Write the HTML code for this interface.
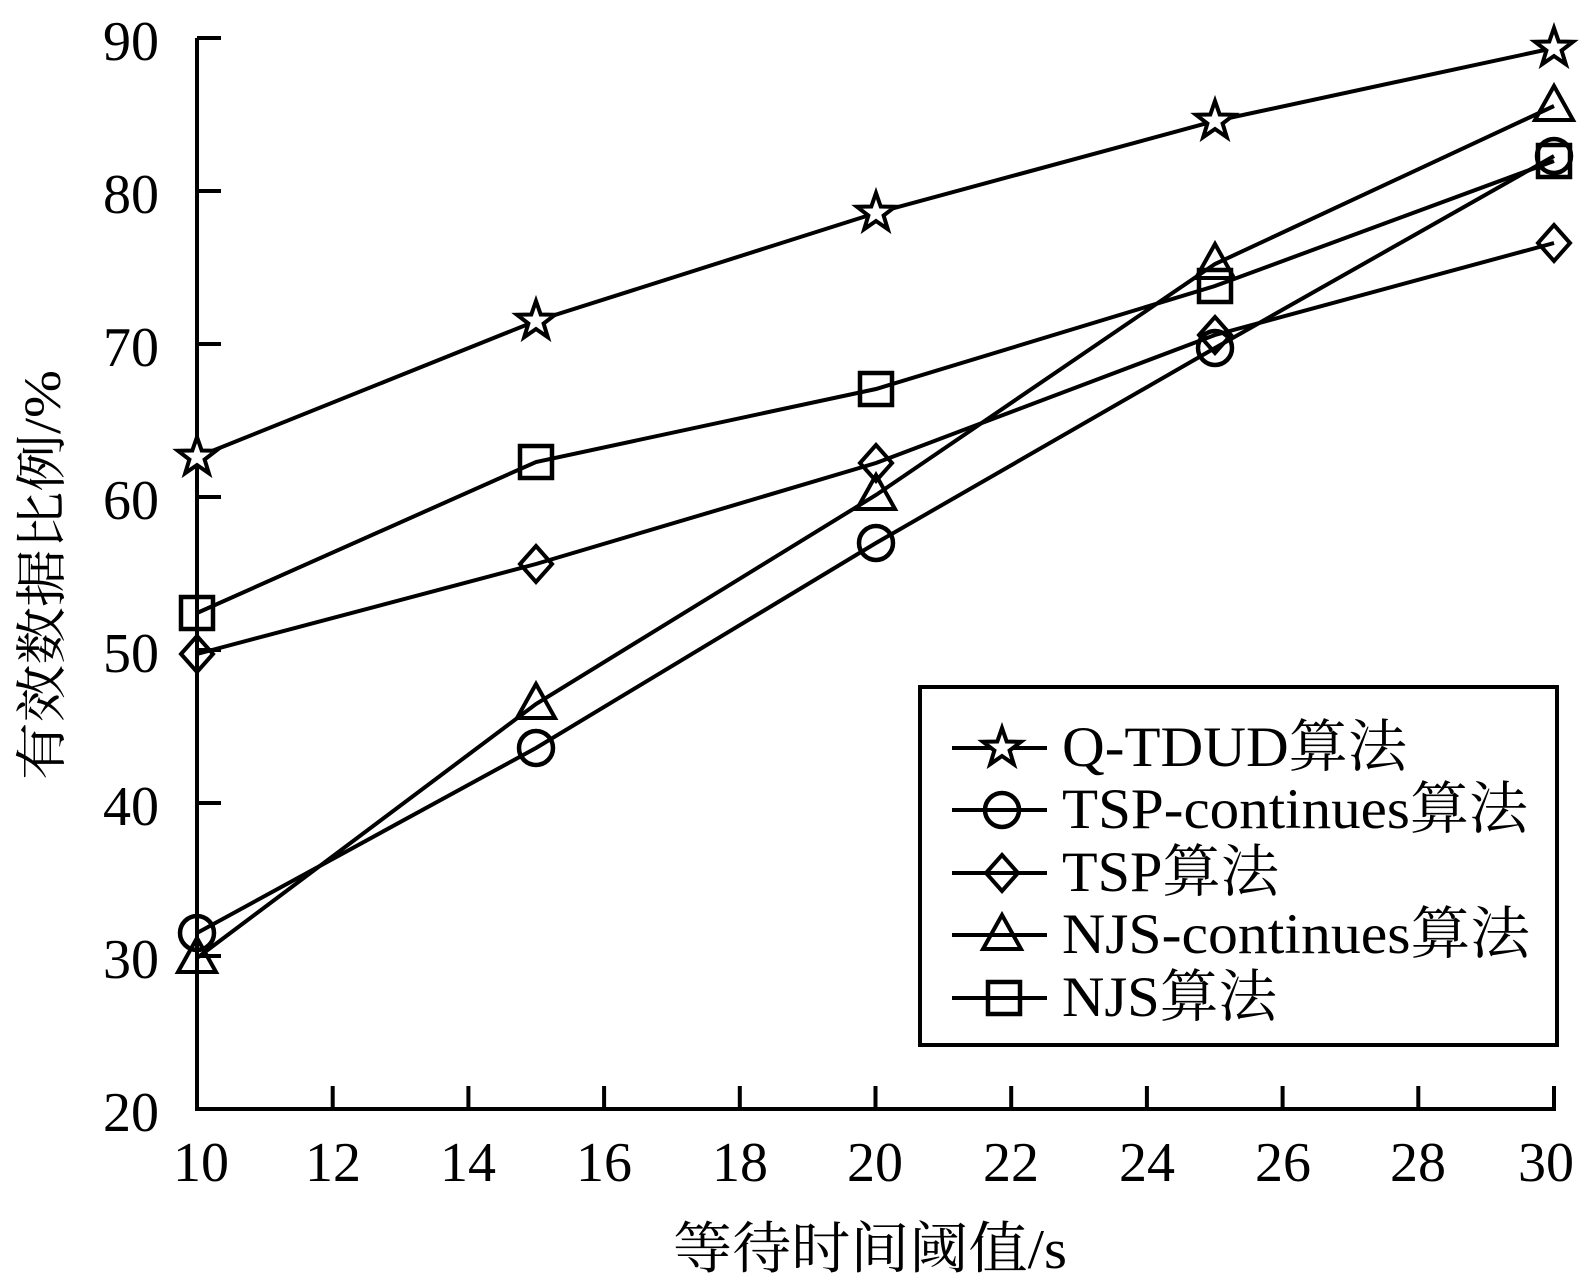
<!DOCTYPE html>
<html><head><meta charset="utf-8"><style>html,body{margin:0;padding:0;background:#fff}svg{display:block}</style></head>
<body>
<svg width="1587" height="1285" viewBox="0 0 1587 1285" xmlns="http://www.w3.org/2000/svg" font-family="'Liberation Serif','Noto Serif CJK SC',serif">
<rect width="1587" height="1285" fill="#fff"/>
<g stroke="#000" stroke-width="4" fill="none">
<path d="M197,38 V1109 H1554 V1090"/>
<path d="M197,38 H221 M197,191 H221 M197,344 H221 M197,497 H221 M197,650 H221 M197,803 H221 M197,956 H221"/>
<path d="M332.7,1109 V1086 M468.4,1109 V1086 M604.1,1109 V1086 M739.8,1109 V1086 M875.5,1109 V1086 M1011.2,1109 V1086 M1146.9,1109 V1086 M1282.6,1109 V1086 M1418.3,1109 V1086 M1554,1109 V1086"/>
</g>
<g font-size="56" text-anchor="end" fill="#000">
<text x="159" y="60">90</text><text x="159" y="213">80</text><text x="159" y="366">70</text><text x="159" y="519">60</text><text x="159" y="672">50</text><text x="159" y="825">40</text><text x="159" y="978">30</text><text x="159" y="1131">20</text>
</g>
<g font-size="56" text-anchor="middle" fill="#000">
<text x="201" y="1181">10</text><text x="333" y="1181">12</text><text x="468" y="1181">14</text><text x="604" y="1181">16</text><text x="740" y="1181">18</text><text x="875" y="1181">20</text><text x="1011" y="1181">22</text><text x="1147" y="1181">24</text><text x="1283" y="1181">26</text><text x="1418" y="1181">28</text><text x="1546" y="1181">30</text>
</g>
<text x="870" y="1268" font-size="56" text-anchor="middle" textLength="394" lengthAdjust="spacingAndGlyphs">等待时间阈值/s</text>
<text transform="translate(60,575) rotate(-90)" font-size="52" text-anchor="middle" textLength="410" lengthAdjust="spacingAndGlyphs">有效数据比例/%</text>

<defs>
<path id="star" d="M0,-20 L4.7,-6.5 L19,-6.2 L7.6,2.5 L11.8,16.2 L0,8 L-11.8,16.2 L-7.6,2.5 L-19,-6.2 L-4.7,-6.5 Z" fill="#fff" stroke="#000" stroke-width="4"/>
<circle id="circ" r="17" fill="none" stroke="#000" stroke-width="4.5"/>
<path id="diam" d="M0,-18 L16,0 L0,18 L-16,0 Z" fill="none" stroke="#000" stroke-width="4"/>
<path id="tri" d="M0,-20 L19,14 L-19,14 Z" fill="none" stroke="#000" stroke-width="4"/>
<rect id="sq" x="-16" y="-16" width="32" height="32" fill="none" stroke="#000" stroke-width="4.5"/>
</defs>

<g stroke="#000" stroke-width="4" fill="none">
<polyline points="197,457 536,321 876,213 1215,121 1554,48"/>
<polyline points="197,933 536,748 876,543 1215,348 1554,156"/>
<polyline points="197,654 536,564 876,463 1215,335 1554,243"/>
<polyline points="197,958 536,704 876,495 1215,264 1554,106"/>
<polyline points="197,613 536,462 876,389 1215,286 1554,161"/>
</g>
<g>
<use href="#star" x="197" y="457"/><use href="#star" x="536" y="321"/><use href="#star" x="876" y="213"/><use href="#star" x="1215" y="121"/><use href="#star" x="1554" y="48"/>
<use href="#circ" x="197" y="933"/><use href="#circ" x="536" y="748"/><use href="#circ" x="876" y="543"/><use href="#circ" x="1215" y="348"/><use href="#circ" x="1554" y="156"/>
<use href="#diam" x="197" y="654"/><use href="#diam" x="536" y="564"/><use href="#diam" x="876" y="463"/><use href="#diam" x="1215" y="335"/><use href="#diam" x="1554" y="243"/>
<use href="#tri" x="197" y="958"/><use href="#tri" x="536" y="704"/><use href="#tri" x="876" y="495"/><use href="#tri" x="1215" y="264"/><use href="#tri" x="1554" y="106"/>
<use href="#sq" x="197" y="613"/><use href="#sq" x="536" y="462"/><use href="#sq" x="876" y="389"/><use href="#sq" x="1215" y="286"/><use href="#sq" x="1554" y="161"/>
</g>

<rect x="920" y="687" width="637" height="358" fill="#fff" stroke="#000" stroke-width="4"/>
<g stroke="#000" stroke-width="4">
<path d="M952,748 H1047 M952,810 H1047 M952,873 H1047 M952,935 H1047 M952,998 H1047"/>
</g>
<use href="#star" x="1002" y="748"/>
<use href="#circ" x="1002" y="810"/>
<use href="#diam" x="1002" y="873"/>
<use href="#tri" x="1002" y="935"/>
<use href="#sq" x="1004" y="998"/>
<g font-size="57" fill="#000">
<text x="1062" y="766" textLength="345" lengthAdjust="spacingAndGlyphs">Q-TDUD算法</text>
<text x="1062" y="828" textLength="466" lengthAdjust="spacingAndGlyphs">TSP-continues算法</text>
<text x="1062" y="891" textLength="217" lengthAdjust="spacingAndGlyphs">TSP算法</text>
<text x="1062" y="953" textLength="468" lengthAdjust="spacingAndGlyphs">NJS-continues算法</text>
<text x="1062" y="1016" textLength="215" lengthAdjust="spacingAndGlyphs">NJS算法</text>
</g>
</svg>
</body></html>
